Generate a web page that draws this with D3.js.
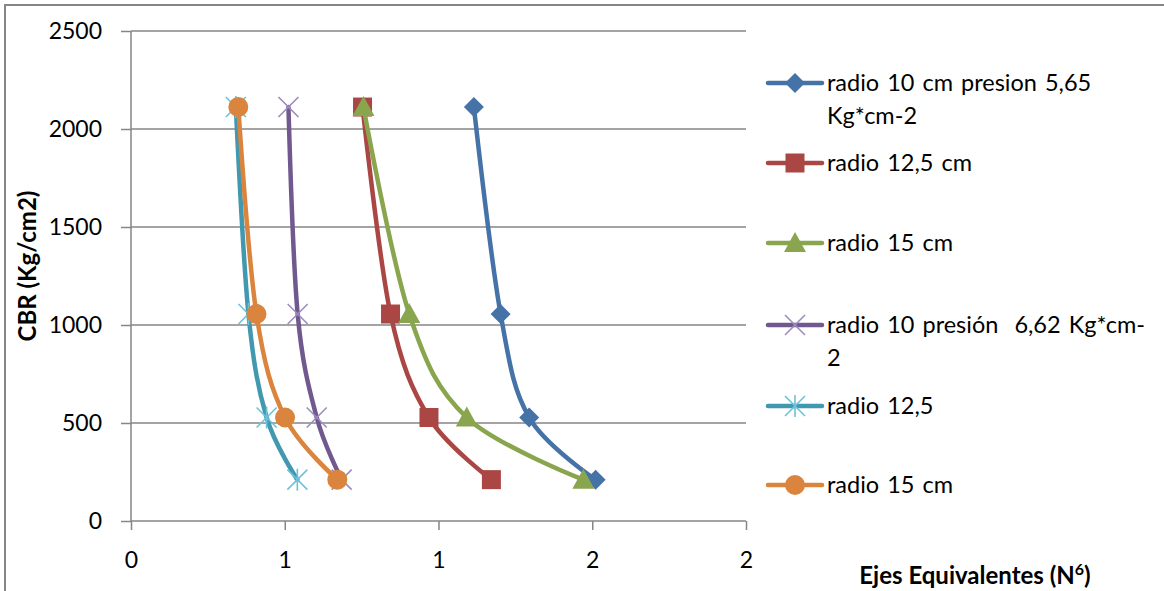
<!DOCTYPE html>
<html>
<head>
<meta charset="utf-8">
<script src="https://cdn.jsdelivr.net/npm/d3@7"></script>
<style>
  html, body { margin: 0; padding: 0; background: #fff; }
  svg { display: block; }
  text { font-family: Lato, "Open Sans", sans-serif; fill: #000; }
</style>
</head>
<body>
<svg id="chart" width="1164" height="591"></svg>
<script>
// CBR levels (Kg/cm2) shared by every series
const cbr = [2112, 1056, 528, 211];

// Equivalent axles (N^6) for each series, in the same order as cbr
const radio10p565 = [1.115, 1.202, 1.295, 1.511];
const radio125cm  = [0.753, 0.844, 0.969, 1.172];
const radio15cm   = [0.756, 0.905, 1.092, 1.471];
const radio10p662 = [0.512, 0.542, 0.604, 0.685];
const radio125    = [0.341, 0.382, 0.441, 0.541];
const radio15cmB  = [0.349, 0.408, 0.501, 0.671];

const seriesNames = [
  ["radio 10 cm presion 5,65", "Kg*cm-2"],
  ["radio 12,5 cm"],
  ["radio 15 cm"],
  ["radio 10 presión  6,62 Kg*cm-", "2"],
  ["radio 12,5"],
  ["radio 15 cm"]
];
const seriesValues = [radio10p565, radio125cm, radio15cm, radio10p662, radio125, radio15cmB];
const seriesColors = ["#4572A7", "#AA4643", "#89A54E", "#71588F", "#4198AF", "#DB843D"];
const markerColors = ["#4572A7", "#AA4643", "#89A54E", "#9D8CBC", "#6CC3D9", "#DB843D"];
const markerKinds  = ["diamond", "square", "triangle", "x", "star", "circle"];

const xTicks = [0, 0.5, 1, 1.5, 2];
const xTickLabels = ["0", "1", "1", "2", "2"];
const yTicks = [0, 500, 1000, 1500, 2000, 2500];
const yTickLabels = ["0", "500", "1000", "1500", "2000", "2500"];

const svg = d3.select("#chart");
const margin = { left: 131, top: 31 };
const W = 615, H = 490;
const grey = "#868686";

// outer chart border
svg.append("rect")
  .attr("x", 5).attr("y", 5).attr("width", 1200).attr("height", 620)
  .attr("fill", "none").attr("stroke", grey).attr("stroke-width", 2);

const x = d3.scaleLinear().domain([0, 2]).range([0, W]);
const y = d3.scaleLinear().domain([0, 2500]).range([H, 0]);

const g = svg.append("g").attr("transform", `translate(${margin.left},${margin.top})`);

// horizontal gridlines
g.append("g").selectAll("line").data(yTicks.filter(d => d > 0)).join("line")
  .attr("x1", 0).attr("x2", W)
  .attr("y1", d => y(d)).attr("y2", d => y(d))
  .attr("stroke", grey).attr("stroke-width", 1.5);

// y axis
const yAxis = g.append("g")
  .call(d3.axisLeft(y).tickValues(yTicks).tickSize(10).tickPadding(19)
    .tickFormat((d, i) => yTickLabels[i]));
yAxis.select(".domain").attr("stroke", grey).attr("stroke-width", 1.5).attr("d", `M0,0V${H}`);
yAxis.selectAll(".tick line").attr("stroke", grey).attr("stroke-width", 1.5);
yAxis.selectAll(".tick text").attr("font-size", 23).attr("font-family", "Lato, sans-serif").attr("fill", "#000");

// x axis
const xAxis = g.append("g").attr("transform", `translate(0,${H})`)
  .call(d3.axisBottom(x).tickValues(xTicks).tickSize(9).tickPadding(22)
    .tickFormat((d, i) => xTickLabels[i]));
xAxis.select(".domain").attr("stroke", grey).attr("stroke-width", 1.5).attr("d", `M0,0H${W}`);
xAxis.selectAll(".tick line").attr("stroke", grey).attr("stroke-width", 1.5);
xAxis.selectAll(".tick text").attr("font-size", 23).attr("font-family", "Lato, sans-serif").attr("fill", "#000");

// axis titles
svg.append("text")
  .attr("transform", `translate(36,266) rotate(-90)`)
  .attr("text-anchor", "middle").attr("font-size", 24).attr("font-weight", "bold")
  .text("CBR (Kg/cm2)");

const xt = svg.append("text")
  .attr("x", 975).attr("y", 584)
  .attr("text-anchor", "middle").attr("font-size", 24).attr("font-weight", "bold");
xt.append("tspan").text("Ejes Equivalentes (N");
xt.append("tspan").attr("font-size", 16).attr("dy", -9).text("6");
xt.append("tspan").attr("dy", 9).text(")");

// marker shapes
function marker(sel, kind, color) {
  if (kind === "diamond") {
    sel.append("path").attr("d", "M0,-10L10,0L0,10L-10,0Z").attr("fill", color);
  } else if (kind === "square") {
    sel.append("rect").attr("x", -9.5).attr("y", -9.5).attr("width", 19).attr("height", 19).attr("fill", color);
  } else if (kind === "triangle") {
    sel.append("path").attr("d", "M0,-11L11,9L-11,9Z").attr("fill", color);
  } else if (kind === "circle") {
    sel.append("circle").attr("r", 10).attr("fill", color);
  } else if (kind === "x") {
    sel.append("path").attr("d", "M-10,-10L10,10M10,-10L-10,10")
      .attr("stroke", color).attr("stroke-width", 1.6).attr("fill", "none");
  } else if (kind === "star") {
    sel.append("path").attr("d", "M-10,-10L10,10M10,-10L-10,10M0,-11V11")
      .attr("stroke", color).attr("stroke-width", 1.6).attr("fill", "none");
  }
}

const line = d3.line()
  .x(d => x(d[0])).y(d => y(d[1]))
  .curve(d3.curveCatmullRom.alpha(0));

seriesValues.forEach((vals, s) => {
  const pts = vals.map((v, i) => [v, cbr[i]]);
  const sg = g.append("g");
  sg.append("path").datum(pts)
    .attr("d", line)
    .attr("fill", "none")
    .attr("stroke", seriesColors[s])
    .attr("stroke-width", 4.5)
    .attr("stroke-linejoin", "round")
    .attr("stroke-linecap", "round");
  sg.selectAll("g.m").data(pts).join("g")
    .attr("class", "m")
    .attr("transform", d => `translate(${x(d[0])},${y(d[1])})`)
    .each(function () { marker(d3.select(this), markerKinds[s], markerColors[s]); });
});

// legend
const legendY = [83, 163, 243, 325, 406, 485];
const lg = svg.append("g");
seriesNames.forEach((lines, s) => {
  const item = lg.append("g").attr("transform", `translate(768,${legendY[s]})`);
  item.append("line").attr("x1", 0).attr("x2", 54).attr("y1", 0).attr("y2", 0)
    .attr("stroke", seriesColors[s]).attr("stroke-width", 4.5).attr("stroke-linecap", "round");
  const m = item.append("g").attr("transform", "translate(27,0)");
  marker(m, markerKinds[s], markerColors[s]);
  const t = item.append("text").attr("x", 59).attr("y", 8)
    .attr("font-size", 23.5).attr("word-spacing", 2).style("white-space", "pre");
  lines.forEach((ln, i) => {
    t.append("tspan").attr("x", 59).attr("dy", i === 0 ? 0 : 33).text(ln);
  });
});
</script>
</body>
</html>
